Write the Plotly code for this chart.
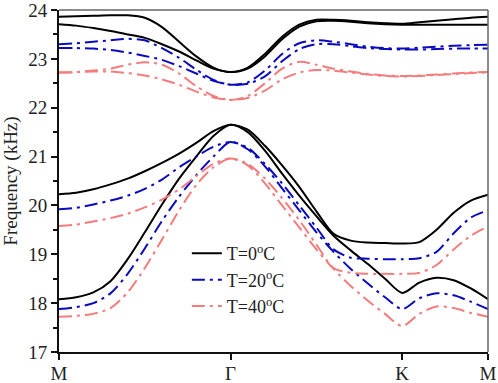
import plotly.graph_objects as go

# path coordinate (M -> Gamma -> K -> M)
k_path = [0.0, 0.1, 0.2, 0.3, 0.4, 0.5, 0.6, 0.7, 0.8, 0.9, 1.0,
          1.1, 1.2, 1.3, 1.4, 1.5, 1.6, 1.7, 1.8, 1.9, 2.0,
          2.1, 2.2, 2.3, 2.4, 2.5]
tick_vals = [0.0, 1.0, 2.0, 2.5]
tick_text = ["M", "Γ", "K", "M"]

# T = 0 °C
t0_band1 = [23.86, 23.87, 23.88, 23.89, 23.89, 23.84, 23.65, 23.35, 23.05, 22.82, 22.73,
            22.82, 23.10, 23.45, 23.70, 23.80, 23.80, 23.78, 23.75, 23.73, 23.72,
            23.75, 23.78, 23.81, 23.84, 23.86]
t0_band2 = [23.71, 23.68, 23.63, 23.57, 23.50, 23.43, 23.30, 23.15, 22.97, 22.80, 22.73,
            22.80, 23.05, 23.40, 23.66, 23.77, 23.78, 23.76, 23.73, 23.71, 23.70,
            23.70, 23.70, 23.70, 23.70, 23.70]
t0_band3 = [20.23, 20.26, 20.33, 20.43, 20.55, 20.70, 20.87, 21.06, 21.28, 21.52, 21.65,
            21.55, 21.22, 20.82, 20.38, 19.88, 19.42, 19.28, 19.24, 19.23, 19.22,
            19.25, 19.50, 19.85, 20.10, 20.22]
t0_band4 = [18.08, 18.12, 18.22, 18.45, 18.90, 19.45, 20.02, 20.55, 21.00, 21.42, 21.65,
            21.50, 21.12, 20.65, 20.20, 19.78, 19.38, 19.08, 18.80, 18.50, 18.21,
            18.42, 18.52, 18.47, 18.30, 18.08]

# T = 20 °C
t20_band1 = [23.30, 23.32, 23.35, 23.38, 23.41, 23.38, 23.22, 23.02, 22.78, 22.57, 22.47,
             22.52, 22.76, 23.10, 23.32, 23.38, 23.35, 23.30, 23.25, 23.22, 23.21,
             23.23, 23.25, 23.27, 23.28, 23.29]
t20_band2 = [23.22, 23.22, 23.21, 23.18, 23.13, 23.06, 22.98, 22.85, 22.70, 22.55, 22.47,
             22.49, 22.64, 22.95, 23.20, 23.30, 23.30, 23.26, 23.22, 23.20, 23.19,
             23.19, 23.20, 23.21, 23.21, 23.21]
t20_band3 = [19.92, 19.95, 20.02, 20.10, 20.20, 20.34, 20.53, 20.78, 21.00, 21.20, 21.30,
             21.18, 20.85, 20.45, 20.00, 19.55, 19.10, 18.93, 18.91, 18.90, 18.90,
             18.92, 19.05, 19.43, 19.75, 19.90]
t20_band4 = [17.88, 17.92, 18.00, 18.20, 18.60, 19.12, 19.68, 20.18, 20.62, 21.00, 21.30,
             21.15, 20.80, 20.35, 19.90, 19.45, 19.05, 18.70, 18.40, 18.12, 17.88,
             18.10, 18.20, 18.16, 18.03, 17.88]

# T = 40 °C
t40_band1 = [22.72, 22.73, 22.76, 22.80, 22.88, 22.93, 22.88, 22.70, 22.44, 22.24, 22.16,
             22.24, 22.50, 22.80, 22.94, 22.88, 22.80, 22.74, 22.69, 22.66, 22.65,
             22.66, 22.68, 22.70, 22.72, 22.73]
t40_band2 = [22.72, 22.73, 22.74, 22.74, 22.71, 22.66, 22.58, 22.47, 22.33, 22.21, 22.16,
             22.20, 22.35, 22.58, 22.72, 22.77, 22.76, 22.72, 22.68, 22.65, 22.64,
             22.65, 22.67, 22.69, 22.71, 22.72]
t40_band3 = [19.58, 19.61, 19.67, 19.74, 19.83, 19.96, 20.12, 20.33, 20.60, 20.85, 20.96,
             20.85, 20.55, 20.15, 19.70, 19.20, 18.72, 18.62, 18.60, 18.60, 18.60,
             18.62, 18.78, 19.10, 19.38, 19.57]
t40_band4 = [17.72, 17.74, 17.78, 17.90, 18.22, 18.72, 19.30, 19.90, 20.42, 20.78, 20.96,
             20.82, 20.45, 20.00, 19.55, 19.10, 18.70, 18.35, 18.05, 17.78, 17.53,
             17.78, 17.93, 17.90, 17.80, 17.72]

series = [
    ("T=0<sup>o</sup>C", [t0_band1, t0_band2, t0_band3, t0_band4], "#000000", "solid"),
    ("T=20<sup>o</sup>C", [t20_band1, t20_band2, t20_band3, t20_band4], "#0A0ABE", "13px,5px,3px,5px"),
    ("T=40<sup>o</sup>C", [t40_band1, t40_band2, t40_band3, t40_band4], "#F47C7C", "13px,5px,3px,5px"),
]

fig = go.Figure()
for name, bands, color, dash in series:
    for i, band in enumerate(bands):
        fig.add_trace(go.Scatter(
            x=k_path, y=band, mode="lines", name=name,
            showlegend=(i == 2),
            line=dict(color=color, width=2, dash=dash, shape="spline", smoothing=0.8),
        ))

FONT = "Liberation Serif, Times New Roman, serif"
fig.update_layout(
    width=498, height=383,
    margin=dict(l=59, r=10, t=10, b=31, autoexpand=False),
    paper_bgcolor="white", plot_bgcolor="white",
    font=dict(family=FONT, size=19, color="#222"),
    showlegend=True,
    legend=dict(x=0.298, y=0.342, xanchor="left", yanchor="top",
                bgcolor="rgba(0,0,0,0)", font=dict(size=18, family=FONT),
                tracegroupgap=0, itemwidth=30),
    shapes=[
        dict(type="line", xref="paper", yref="paper", x0=0, x1=1, y0=1, y1=1,
             line=dict(color="#666", width=1.5)),
        dict(type="line", xref="paper", yref="paper", x0=1, x1=1, y0=0, y1=1,
             line=dict(color="#666", width=1.5)),
    ],
)
fig.update_xaxes(range=[0, 2.5], tickmode="array", tickvals=tick_vals, ticktext=tick_text,
                 showgrid=False, zeroline=False, showline=True, linecolor="#111", linewidth=2,
                 ticks="outside", ticklen=6, tickwidth=2, tickcolor="#111", automargin=False,
                 ticklabeloverflow="allow", ticklabelstandoff=-3,
                 tickfont=dict(size=19, family=FONT))
fig.update_yaxes(range=[17, 24], dtick=1, showgrid=False, zeroline=False,
                 showline=True, linecolor="#111", linewidth=2, automargin=False,
                 ticks="outside", ticklen=6, tickwidth=2, tickcolor="#111",
                 ticklabeloverflow="allow",
                 minor=dict(dtick=0.5, ticks="outside", ticklen=4, tickwidth=1.5, tickcolor="#111"),
                 tickfont=dict(size=19, family=FONT),
                 title=dict(text="Frequency (kHz)", font=dict(size=19, family=FONT), standoff=8))

fig.write_html("out.html", config={"displayModeBar": False},
               post_script="document.body.style.margin='0px';")
